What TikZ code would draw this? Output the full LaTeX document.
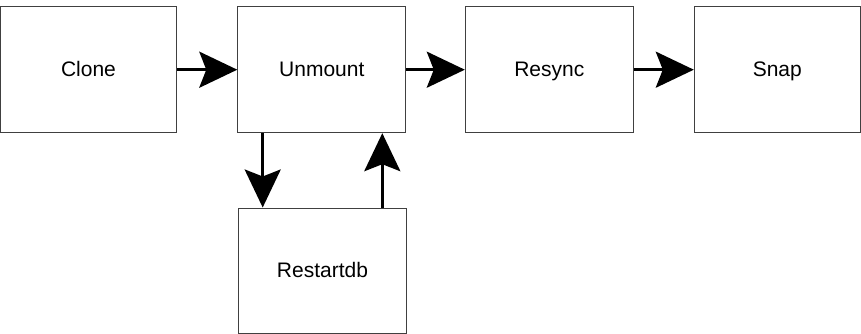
\documentclass[tikz,border=0pt]{standalone}
\usepackage{fontspec}
\setmainfont{Liberation Sans}
\usetikzlibrary{arrows.meta}
\begin{document}
\begin{tikzpicture}[x=1pt,y=-1pt,
  procbox/.style={draw=black!75, line width=1pt, inner sep=0pt, text height=15pt, text depth=1pt, font=\fontsize{21}{25}\selectfont},
  flow/.style={line width=3pt, -{Stealth[length=38pt,width=36pt,inset=7pt]}}]
\useasboundingbox (0,0) rectangle (861,334);
\node[procbox, minimum width=176pt, minimum height=126pt] (clone) at (88.5,69.7) {Clone};
\node[procbox, minimum width=168pt, minimum height=126pt] (unmount) at (321.8,69.7) {Unmount};
\node[procbox, minimum width=168pt, minimum height=126pt] (resync) at (549.3,69.7) {Resync};
\node[procbox, minimum width=166pt, minimum height=126pt] (snap) at (777.3,69.7) {Snap};
\node[procbox, minimum width=168pt, minimum height=125pt] (restart) at (322.5,270.5) {Restartdb};
\draw[flow] (clone.east) -- (unmount.west);
\draw[flow] (unmount.east) -- (resync.west);
\draw[flow] (resync.east) -- (snap.west);
\draw[flow] (unmount.south -| 262.7,0) -- (restart.north -| 262.7,0);
\draw[flow] (restart.north -| 382.3,0) -- (unmount.south -| 382.3,0);
\end{tikzpicture}
\end{document}
